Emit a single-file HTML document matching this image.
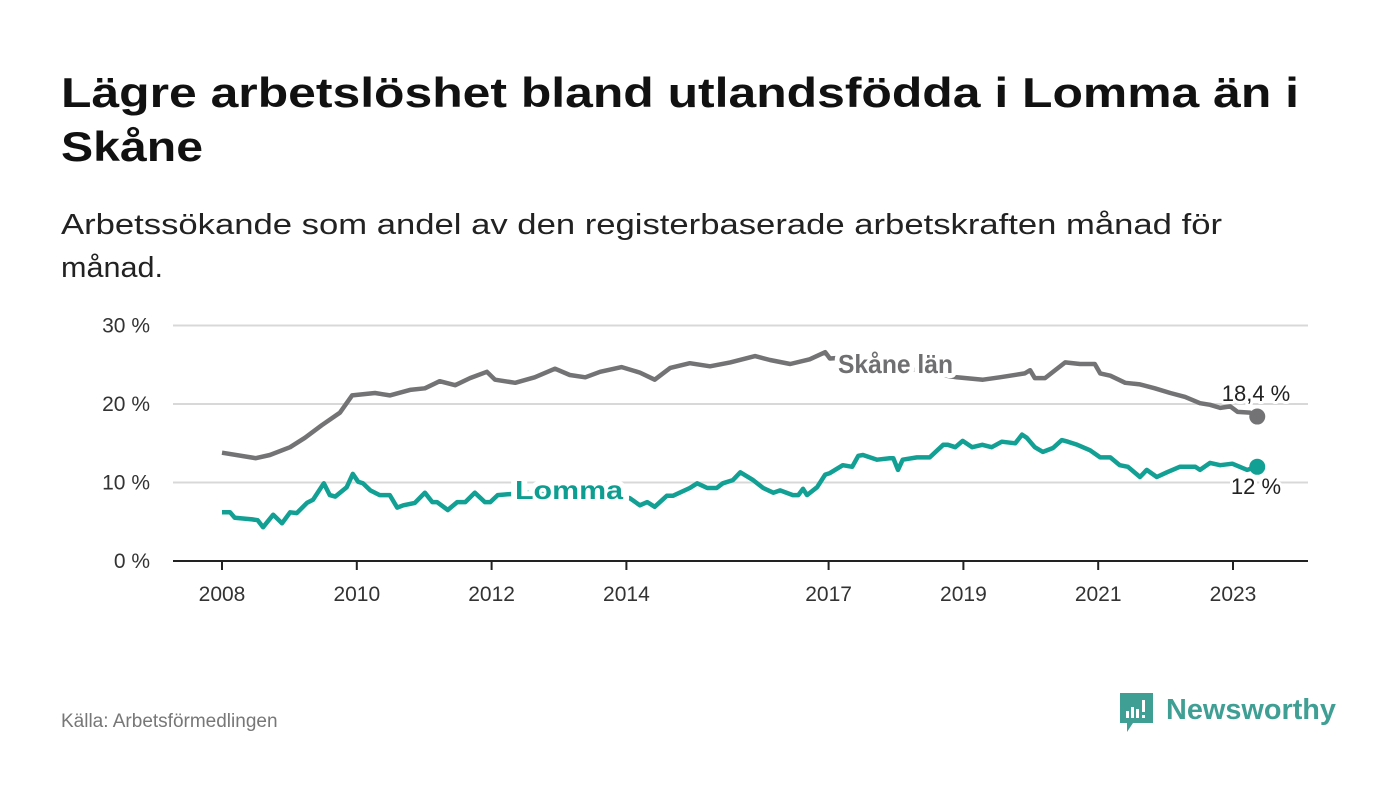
<!DOCTYPE html>
<html><head><meta charset="utf-8"><style>
html,body{margin:0;padding:0;background:#fff;}
svg{display:block;font-family:"Liberation Sans",sans-serif;}
</style></head><body>
<svg id="chart" width="1400" height="794" viewBox="0 0 1400 794" xmlns="http://www.w3.org/2000/svg">
<rect width="1400" height="794" fill="#fff"/>
<text x="61" y="107" font-size="42" font-weight="bold" fill="#111" textLength="1238" lengthAdjust="spacingAndGlyphs">Lägre arbetslöshet bland utlandsfödda i Lomma än i</text>
<text x="61" y="161" font-size="42" font-weight="bold" fill="#111" textLength="142" lengthAdjust="spacingAndGlyphs">Skåne</text>
<text x="61" y="234" font-size="29" fill="#222" textLength="1161" lengthAdjust="spacingAndGlyphs">Arbetssökande som andel av den registerbaserade arbetskraften månad för</text>
<text x="61" y="277" font-size="29" fill="#222" textLength="102" lengthAdjust="spacingAndGlyphs">månad.</text>
<g id="grid"></g>
<g id="yticks"></g>
<g id="xticks"></g>
<g id="series"></g>
<text x="61" y="727" font-size="19" fill="#777">Källa: Arbetsförmedlingen</text>
<g>
<path d="M1120 693 h33 v30 h-20 l-6 9 v-9 h-7 z" fill="#3f9f94"/>
<rect x="1126" y="711" width="3" height="7" fill="#fff"/><rect x="1131" y="707" width="3" height="11" fill="#fff"/><rect x="1136" y="709" width="3" height="9" fill="#fff"/><rect x="1142" y="700" width="3" height="12" fill="#fff"/><rect x="1142" y="715" width="3" height="3" fill="#fff"/>
<text x="1166" y="719" font-size="29" font-weight="bold" fill="#3f9f94" textLength="170" lengthAdjust="spacingAndGlyphs">Newsworthy</text>
</g>
</svg>
<script>
const yTicks=[0,10,20,30];
const yTickLabels=["0 %","10 %","20 %","30 %"];
const xTicks=[2008,2010,2012,2014,2017,2019,2021,2023];
const skaneT=[0,.5,.71,1.01,1.23,1.48,1.75,1.93,2.27,2.49,2.79,3.01,3.23,3.46,3.68,3.93,4.05,4.35,4.64,4.94,5.16,5.39,5.61,5.93,6.2,6.42,6.65,6.94,7.24,7.54,7.91,8.13,8.43,8.72,8.95,9.02,9.4,9.8,10.2,10.6,10.9,11.29,11.54,11.91,11.99,12.06,12.21,12.51,12.73,12.95,13.03,13.18,13.4,13.62,13.84,14.07,14.29,14.51,14.66,14.81,14.96,15.07,15.25,15.36];
const skaneV=[13.8,13.1,13.5,14.5,15.7,17.3,18.9,21.1,21.4,21.1,21.8,22.0,22.9,22.4,23.3,24.1,23.1,22.7,23.4,24.5,23.7,23.4,24.1,24.7,24.0,23.1,24.6,25.2,24.8,25.3,26.1,25.6,25.1,25.7,26.6,25.8,26.0,25.2,24.5,23.8,23.4,23.1,23.4,23.9,24.3,23.3,23.3,25.3,25.1,25.1,23.9,23.6,22.7,22.5,22.0,21.4,20.9,20.1,19.9,19.5,19.7,19.0,18.9,18.4];
const lommaT=[0,.12,.19,.45,.53,.61,.76,.89,1.01,1.11,1.26,1.35,1.51,1.6,1.68,1.85,1.94,2.02,2.09,2.2,2.34,2.49,2.6,2.69,2.86,3.01,3.12,3.19,3.35,3.49,3.61,3.75,3.9,3.98,4.09,4.24,4.6,5.0,5.4,5.75,6.05,6.2,6.31,6.42,6.6,6.69,6.94,7.05,7.2,7.34,7.43,7.58,7.69,7.88,8.03,8.18,8.28,8.47,8.55,8.62,8.68,8.83,8.95,9.02,9.21,9.35,9.44,9.51,9.72,9.91,9.96,10.03,10.1,10.31,10.5,10.7,10.77,10.88,10.99,11.13,11.28,11.42,11.57,11.77,11.87,11.94,12.06,12.18,12.33,12.46,12.55,12.69,12.88,13.03,13.18,13.32,13.44,13.62,13.72,13.87,14.02,14.21,14.44,14.51,14.66,14.81,14.99,15.21,15.36];
const lommaV=[6.2,6.2,5.5,5.3,5.2,4.3,5.9,4.8,6.2,6.1,7.4,7.8,9.9,8.4,8.2,9.4,11.1,10.1,9.9,9.0,8.4,8.4,6.8,7.1,7.4,8.7,7.5,7.5,6.5,7.5,7.5,8.7,7.5,7.5,8.4,8.5,8.7,8.8,8.6,8.6,8.0,7.1,7.5,6.9,8.3,8.3,9.3,9.9,9.3,9.3,9.9,10.3,11.3,10.3,9.3,8.7,9.0,8.4,8.4,9.2,8.4,9.4,11.0,11.2,12.2,12.0,13.4,13.5,12.9,13.1,13.1,11.6,12.9,13.2,13.2,14.8,14.8,14.5,15.3,14.5,14.8,14.5,15.2,15.0,16.1,15.7,14.5,13.9,14.4,15.4,15.2,14.8,14.1,13.2,13.2,12.2,12.0,10.7,11.6,10.7,11.3,12.0,12.0,11.6,12.5,12.2,12.4,11.6,12.0];
const NS="http://www.w3.org/2000/svg";
const x=t=>222+t*67.4, xy=yr=>x(yr-2008), y=v=>561-v*7.85;
function mk(tag,attrs,parent){const e=document.createElementNS(NS,tag);for(const k in attrs)e.setAttribute(k,attrs[k]);parent.appendChild(e);return e;}
const grid=document.getElementById('grid'),yt=document.getElementById('yticks'),xt=document.getElementById('xticks'),ser=document.getElementById('series');
yTicks.forEach((v,i)=>{
 const l=mk('line',{x1:173,x2:1308,y1:y(v),y2:y(v),stroke:v===0?'#222':'#d8d8d8','stroke-width':2},grid);
 
 
 const t=mk('text',{x:150,y:y(v)+7,'font-size':21,fill:'#333','text-anchor':'end'},yt);
 t.textContent=yTickLabels[i];
 
 
});
xTicks.forEach(yr=>{
 const l=mk('line',{x1:xy(yr),x2:xy(yr),y1:561,y2:570,stroke:'#222','stroke-width':2},xt);
 
 
 const t=mk('text',{x:xy(yr),y:601,'font-size':21,fill:'#333','text-anchor':'middle'},xt);
 t.textContent=yr;
 
 
});
function line(T,V,col,name){
 const d=T.map((t,i)=>(i?'L':'M')+x(t).toFixed(1)+' '+y(V[i]).toFixed(1)).join(' ');
 const p=mk('path',{d:d,fill:'none',stroke:col,'stroke-width':4.5,'stroke-linejoin':'round'},ser);
 
 
 const n=T.length-1;
 const c=mk('circle',{cx:x(T[n]),cy:y(V[n]),r:8,fill:col},ser);
 
 
}
line(skaneT,skaneV,'#737274','skane');
line(lommaT,lommaV,'#12a094','lomma');
function lab(txt,xx,yy,col,name,bold,anchor,len){
 const a={x:xx,y:yy,'font-size':bold?26:22,'font-weight':bold?'bold':'normal',fill:col,stroke:'#fff','stroke-width':bold?10:6,'paint-order':'stroke','stroke-linejoin':'round','text-anchor':anchor||'start'};
 if(len){a.textLength=len;a.lengthAdjust='spacingAndGlyphs';}
 const t=mk('text',a,ser);
 t.textContent=txt;
 
 
}
lab('Skåne län',838,373,'#6f6e70','skane-label',true,'start',115);
lab('Lomma',515,499,'#0e9e91','lomma-label',true,'start',108);
lab('18,4 %',1256,401,'#222','skane-end-value',false,'middle');
lab('12 %',1256,494,'#222','lomma-end-value',false,'middle');
</script>
</body></html>
